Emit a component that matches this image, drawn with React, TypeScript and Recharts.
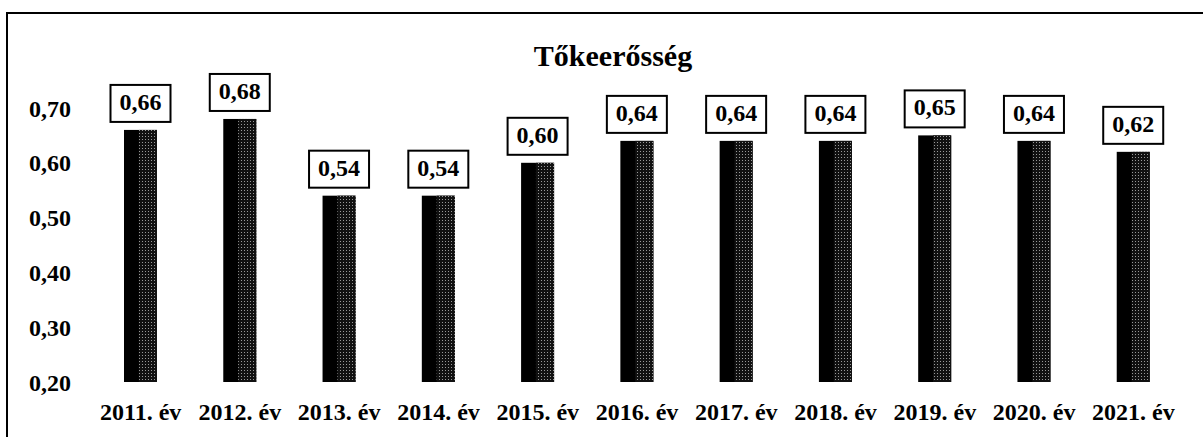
import { BarChart, Bar, XAxis, YAxis, LabelList } from "recharts";

const years = [
  "2011. év",
  "2012. év",
  "2013. év",
  "2014. év",
  "2015. év",
  "2016. év",
  "2017. év",
  "2018. év",
  "2019. év",
  "2020. év",
  "2021. év",
];
const values = [0.66, 0.68, 0.54, 0.54, 0.6, 0.64, 0.64, 0.64, 0.65, 0.64, 0.62];
const yTicks = [0.2, 0.3, 0.4, 0.5, 0.6, 0.7];

const data = years.map((y, i) => ({ name: y, value: values[i] }));

const font = "Liberation Serif";
const fmt = (v: number) => v.toFixed(2).replace(".", ",");

// black left edge + dotted grey body, like the scanned bars
function TexturedBar(props: any) {
  const { x, y, width, height } = props;
  if (!height || height <= 0) return null;
  const dark = width * 0.45;
  return (
    <g>
      <rect x={x} y={y} width={width} height={height} fill="#000" />
      <rect x={x + dark} y={y} width={width - dark} height={height} fill="url(#dots)" />
    </g>
  );
}

// value in a bordered box above each bar
function BoxLabel(props: any) {
  const { x, y, width, value } = props;
  const cx = x + width / 2;
  const w = 60;
  const h = 37;
  const top = y - 8 - h;
  return (
    <g>
      <rect x={cx - w / 2} y={top} width={w} height={h} fill="#fff" stroke="#000" strokeWidth={2} />
      <text
        x={cx}
        y={top + h / 2 + 1}
        textAnchor="middle"
        dominantBaseline="middle"
        fontFamily={font}
        fontWeight="bold"
        fontSize={24}
        fill="#000"
      >
        {fmt(value)}
      </text>
    </g>
  );
}

export default function App() {
  return (
    <div style={{ position: "absolute", left: 0, top: 0, width: 1203, height: 437, background: "#fff", overflow: "hidden" }}>
      {/* frame */}
      <div
        style={{
          position: "absolute",
          left: 6,
          top: 12,
          width: 1210,
          height: 440,
          border: "2px solid #000",
          boxSizing: "border-box",
        }}
      />
      {/* title */}
      <div
        style={{
          position: "absolute",
          left: 413,
          top: 38,
          width: 400,
          textAlign: "center",
          fontFamily: font,
          fontWeight: "bold",
          fontSize: 30,
          lineHeight: "36px",
          color: "#000",
        }}
      >
        Tőkeerősség
      </div>
      <div style={{ position: "absolute", left: 0, top: 0 }}>
        <BarChart width={1203} height={437} data={data} margin={{ top: 108, right: 20, bottom: 25, left: 0 }}>
          <defs>
            <pattern id="dots" width="3" height="3" patternUnits="userSpaceOnUse">
              <rect width="3" height="3" fill="#111" />
              <rect x="1" y="1" width="1" height="1" fill="#999" />
            </pattern>
          </defs>
          <XAxis
            dataKey="name"
            axisLine={false}
            tickLine={false}
            height={30}
            tickMargin={15}
            interval={0}
            tick={{ fontFamily: font, fontWeight: "bold", fontSize: 24, fill: "#000" }}
          />
          <YAxis
            domain={[0.2, 0.7]}
            ticks={yTicks}
            allowDataOverflow
            axisLine={false}
            tickLine={false}
            width={91}
            tickMargin={14}
            tickFormatter={fmt}
            tick={{ fontFamily: font, fontWeight: "bold", fontSize: 24, fill: "#000" }}
          />
          <Bar dataKey="value" barSize={33} shape={<TexturedBar />} isAnimationActive={false}>
            <LabelList dataKey="value" content={<BoxLabel />} />
          </Bar>
        </BarChart>
      </div>
    </div>
  );
}
